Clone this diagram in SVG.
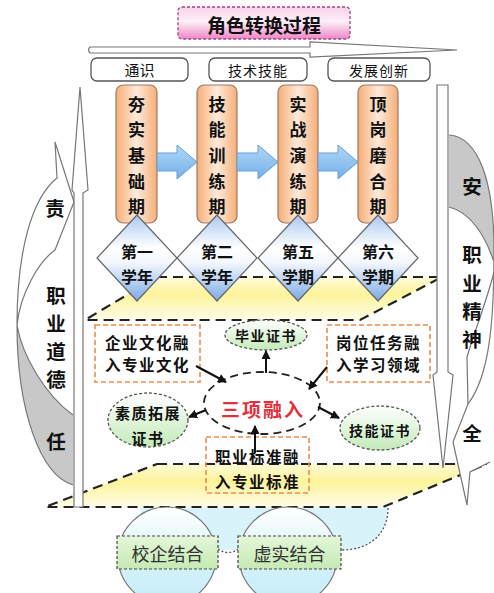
<svg xmlns="http://www.w3.org/2000/svg" width="494" height="593" viewBox="0 0 494 593">
<defs>
<linearGradient id="gTitle" x1="0" y1="0" x2="0" y2="1"><stop offset="0" stop-color="#f9d0ea"/><stop offset="0.45" stop-color="#fdf0f8"/><stop offset="1" stop-color="#ee86c6"/></linearGradient>
<linearGradient id="gOrange" x1="0" y1="0" x2="1" y2="0"><stop offset="0" stop-color="#f6ae76"/><stop offset="0.5" stop-color="#feeadb"/><stop offset="1" stop-color="#f6ae76"/></linearGradient>
<linearGradient id="gBlue" x1="0" y1="0" x2="0" y2="1"><stop offset="0" stop-color="#b0d7f6"/><stop offset="1" stop-color="#74b0e8"/></linearGradient>
<linearGradient id="gDiamond" x1="0" y1="0" x2="0" y2="1"><stop offset="0" stop-color="#a9c9f0"/><stop offset="0.38" stop-color="#ffffff"/><stop offset="0.55" stop-color="#f4f8fe"/><stop offset="1" stop-color="#7aaae6"/></linearGradient>
<linearGradient id="gYellow" x1="0" y1="0" x2="0" y2="1"><stop offset="0" stop-color="#fffbd8"/><stop offset="0.4" stop-color="#fcf39a"/><stop offset="1" stop-color="#fffde8"/></linearGradient>
<linearGradient id="gGreen" x1="0" y1="0" x2="0" y2="1"><stop offset="0" stop-color="#ffffff"/><stop offset="1" stop-color="#c3eab8"/></linearGradient>
<linearGradient id="gCircle" x1="0" y1="0" x2="0" y2="1"><stop offset="0" stop-color="#ffffff"/><stop offset="0.6" stop-color="#d3f1f9"/><stop offset="1" stop-color="#c6edf8"/></linearGradient>
<linearGradient id="gRect" x1="0" y1="0" x2="0" y2="1"><stop offset="0" stop-color="#e4f6d8"/><stop offset="1" stop-color="#c6eab4"/></linearGradient>
<marker id="ah" markerWidth="9" markerHeight="9" refX="8" refY="4.5" orient="auto" markerUnits="userSpaceOnUse"><path d="M0,0 L9,4.5 L0,9 Z" fill="#111"/></marker>
</defs>
<style>
text{font-family:"Noto Sans CJK SC","Noto Sans",sans-serif;text-anchor:middle;dominant-baseline:central;fill:#111}
.b{font-weight:bold}
.side{font-weight:bold;font-size:19.5px}
.outline{fill:#fff;stroke:#777;stroke-width:1.2}
.line{fill:none;stroke:#777;stroke-width:1.2}
.gray{fill:#c8c8c8;stroke:#777;stroke-width:1.2}
.lbl{fill:#fff;stroke:#555;stroke-width:1.3}
.obox{fill:url(#gOrange);stroke:#9a7a66;stroke-width:1.2}
.barrow{fill:url(#gBlue);stroke:#6a9fd4;stroke-width:1}
.dia{fill:url(#gDiamond);stroke:#666;stroke-width:1.2}
.par{fill:url(#gYellow);stroke:#222;stroke-width:2.2;stroke-dasharray:10 6}
.odash{fill:none;stroke:#ee8a4c;stroke-width:1.6;stroke-dasharray:5 3}
.gell{fill:url(#gGreen);stroke:#555;stroke-width:1.3;stroke-dasharray:3 2}
.conn{stroke:#111;stroke-width:2;fill:none;marker-end:url(#ah)}
</style>

<g id="bands">
<polygon class="par" points="157,277 442,277 360,320 85,320"/>
<polygon class="par" points="157,464 487,464 383,507 45,507"/>
</g>

<g id="title">
<rect x="178" y="7" width="172" height="32" rx="4" fill="url(#gTitle)" stroke="#a04680" stroke-width="1.3" stroke-dasharray="3 2"/>
<text x="264" y="24" class="b" font-size="19">角色转换过程</text>
</g>

<g id="top-arrow">
<path class="outline" d="M90,47 L310,47 L310,42 L457,50 L310,57 L310,53 L90,53 Q87,50 90,47 Z"/>
</g>

<g id="labels">
<rect class="lbl" x="91" y="58" width="97" height="23" rx="6"/>
<text x="139.5" y="69.5" font-size="15">通识</text>
<rect class="lbl" x="209" y="58" width="98" height="23" rx="6"/>
<text x="258" y="69.5" font-size="14" letter-spacing="1">技术技能</text>
<rect class="lbl" x="328" y="58" width="102" height="23" rx="6"/>
<text x="379" y="69.5" font-size="14" letter-spacing="1">发展创新</text>
</g>

<g id="left-curve">
<path d="M73,485 C40,475 17,410 17,325 C17,250 32,198 57,178 L55,142 L74,202 L74,485 Z" fill="#fff"/>
<path d="M17,325 C22,355 45,395 73,415 L73,485 C40,475 17,410 17,325 Z" fill="#c8c8c8"/>
<path class="line" d="M73,485 C40,475 17,410 17,325 C17,250 32,198 57,178 L55,142 L74,202 L55,250 C38,262 20,295 17,325 C22,355 45,395 73,415"/>
<text x="55" y="207" class="side">责</text>
<text x="56" y="294" class="side">职</text>
<text x="56" y="322" class="side">业</text>
<text x="56" y="350" class="side">道</text>
<text x="56" y="378" class="side">德</text>
<text x="56" y="440" class="side">任</text>
</g>

<g id="right-curve">
<path d="M449,135 C478,137 494,180 494,250 C494,320 490,375 468,404 L453,442 L467,505 L470,472 L490,462 L449,440 Z" fill="#fff"/>
<path d="M449,135 C478,137 494,180 494,250 L494,262 C485,235 470,212 449,207 Z" fill="#c8c8c8"/>
<path class="line" d="M449,135 C478,137 494,180 494,250 C494,320 490,375 468,404 L453,442 L467,505 L470,472 L490,462"/>
<path class="line" d="M468,404 L467,357 C475,330 487,300 494,272"/>
<path class="line" d="M494,262 C485,235 470,212 449,207"/>
<text x="472" y="185" class="side">安</text>
<text x="472" y="253" class="side">职</text>
<text x="472" y="282" class="side">业</text>
<text x="472" y="310" class="side">精</text>
<text x="472" y="338" class="side">神</text>
<text x="472" y="432" class="side">全</text>
</g>

<g id="left-arrow">
<path class="outline" d="M74,507 L74,193 L72,190 L80,87 L88,190 L83,193 L83,507 Z"/>
</g>
<g id="right-arrow">
<path class="outline" d="M437,85 L448,85 L448,372 L453,375 L443,468 L433,375 L437,372 Z"/>
</g>

<g id="stage1">
<rect class="obox" x="116" y="85" width="41" height="138" rx="7"/>
<text x="136.5" y="103" class="b" font-size="17">夯</text>
<text x="136.5" y="128" class="b" font-size="17">实</text>
<text x="136.5" y="154" class="b" font-size="17">基</text>
<text x="136.5" y="180" class="b" font-size="17">础</text>
<text x="136.5" y="205" class="b" font-size="17">期</text>
</g>
<g id="stage2">
<rect class="obox" x="197" y="85" width="40" height="138" rx="7"/>
<text x="217" y="103" class="b" font-size="17">技</text>
<text x="217" y="128" class="b" font-size="17">能</text>
<text x="217" y="154" class="b" font-size="17">训</text>
<text x="217" y="180" class="b" font-size="17">练</text>
<text x="217" y="205" class="b" font-size="17">期</text>
</g>
<g id="stage3">
<rect class="obox" x="278" y="85" width="40" height="138" rx="7"/>
<text x="298" y="103" class="b" font-size="17">实</text>
<text x="298" y="128" class="b" font-size="17">战</text>
<text x="298" y="154" class="b" font-size="17">演</text>
<text x="298" y="180" class="b" font-size="17">练</text>
<text x="298" y="205" class="b" font-size="17">期</text>
</g>
<g id="stage4">
<rect class="obox" x="358" y="85" width="40" height="138" rx="7"/>
<text x="378" y="103" class="b" font-size="17">顶</text>
<text x="378" y="128" class="b" font-size="17">岗</text>
<text x="378" y="154" class="b" font-size="17">磨</text>
<text x="378" y="180" class="b" font-size="17">合</text>
<text x="378" y="205" class="b" font-size="17">期</text>
</g>

<g id="stage-arrows">
<path class="barrow" d="M157,153 L177,153 L177,145 L197,162 L177,179 L177,171 L157,171 Z"/>
<path class="barrow" d="M237,153 L258,153 L258,145 L278,162 L258,179 L258,171 L237,171 Z"/>
<path class="barrow" d="M318,153 L338,153 L338,145 L358,162 L338,179 L338,171 L318,171 Z"/>
</g>

<g id="term1">
<polygon class="dia" points="137,215 177,258 137,301 97,258"/>
<text x="137" y="251" class="b" font-size="16">第一</text>
<text x="137" y="276" class="b" font-size="16">学年</text>
</g>
<g id="term2">
<polygon class="dia" points="217,215 257,258 217,301 177,258"/>
<text x="217" y="251" class="b" font-size="16">第二</text>
<text x="217" y="276" class="b" font-size="16">学年</text>
</g>
<g id="term3">
<polygon class="dia" points="298,215 338,258 298,301 258,258"/>
<text x="298" y="251" class="b" font-size="16">第五</text>
<text x="298" y="276" class="b" font-size="16">学期</text>
</g>
<g id="term4">
<polygon class="dia" points="378,215 418,258 378,301 338,258"/>
<text x="378" y="251" class="b" font-size="16">第六</text>
<text x="378" y="276" class="b" font-size="16">学期</text>
</g>

<g id="culture">
<rect class="odash" x="95" y="325" width="105" height="57"/>
<text x="147.5" y="342" class="b" font-size="15.5" letter-spacing="1.5">企业文化融</text>
<text x="147.5" y="364" class="b" font-size="15.5" letter-spacing="1.5">入专业文化</text>
</g>
<g id="task">
<rect class="odash" x="327" y="325" width="103" height="57"/>
<text x="378.5" y="342" class="b" font-size="15.5" letter-spacing="1.5">岗位任务融</text>
<text x="378.5" y="364" class="b" font-size="15.5" letter-spacing="1.5">入学习领域</text>
</g>
<g id="standard">
<rect class="odash" x="206" y="437" width="103" height="56"/>
<text x="257.5" y="456" class="b" font-size="15.5" letter-spacing="1.5">职业标准融</text>
<text x="257.5" y="481" class="b" font-size="15.5" letter-spacing="1.5">入专业标准</text>
</g>
<g id="graduation">
<ellipse class="gell" cx="266" cy="335" rx="41" ry="15"/>
<text x="266" y="335" class="b" font-size="14" letter-spacing="1.5">毕业证书</text>
</g>
<g id="quality">
<ellipse class="gell" cx="148" cy="420" rx="40" ry="27"/>
<text x="148" y="412" class="b" font-size="15" letter-spacing="1.5">素质拓展</text>
<text x="148" y="437" class="b" font-size="15" letter-spacing="1.5">证书</text>
</g>
<g id="skill">
<ellipse class="gell" cx="380" cy="428" rx="40" ry="22"/>
<text x="380" y="430" class="b" font-size="14" letter-spacing="1.5">技能证书</text>
</g>
<g id="center">
<ellipse cx="262" cy="403" rx="58" ry="31" fill="none" stroke="#222" stroke-width="1.8" stroke-dasharray="8 5"/>
<text x="263" y="408" class="b" font-size="19" letter-spacing="2" style="fill:#e2303c">三项融入</text>
</g>

<g id="connectors">
<line class="conn" x1="196" y1="366" x2="226" y2="382"/>
<line class="conn" x1="266" y1="373" x2="266" y2="351"/>
<line class="conn" x1="327" y1="367" x2="309" y2="389"/>
<line class="conn" x1="206" y1="410" x2="189" y2="417"/>
<line class="conn" x1="318" y1="407" x2="339" y2="418"/>
<line class="conn" x1="255" y1="453" x2="255" y2="426"/>
</g>

<g id="base">
<path d="M140,508 L388,508 C388,532 372,550 345,550 L150,550 Z" fill="#d9f3fb"/>
<path d="M388,508 C388,532 372,550 341,550" fill="none" stroke="#555" stroke-width="1.3" stroke-dasharray="2 2"/>
<path d="M218,549 Q228,556 238,549" fill="none" stroke="#555" stroke-width="1.3" stroke-dasharray="2 2"/>
</g>
<g id="school">
<circle cx="167" cy="556" r="49" fill="url(#gCircle)" stroke="#777" stroke-width="1.2"/>
<rect x="117" y="536" width="101" height="33" fill="url(#gRect)" stroke="#444" stroke-width="1.2" stroke-dasharray="3 2"/>
<text x="167.5" y="553" font-size="18" style="fill:#333">校企结合</text>
</g>
<g id="virtual">
<circle cx="288" cy="556" r="49" fill="url(#gCircle)" stroke="#777" stroke-width="1.2"/>
<rect x="238" y="536" width="103" height="33" fill="url(#gRect)" stroke="#444" stroke-width="1.2" stroke-dasharray="3 2"/>
<text x="289.5" y="553" font-size="18" style="fill:#333">虚实结合</text>
</g>
</svg>
